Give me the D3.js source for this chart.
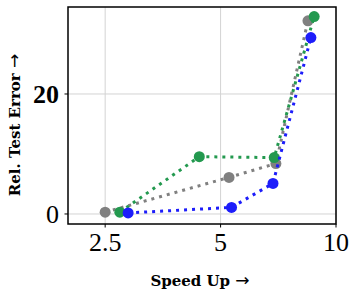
<!DOCTYPE html>
<html>
<head>
<meta charset="utf-8">
<script src="https://cdn.jsdelivr.net/npm/d3@7"></script>
<style>
  body { margin: 0; background: #fff; }
  svg { font-family: "Liberation Serif", "DejaVu Serif", serif; }
</style>
</head>
<body>
<svg id="chart" width="356" height="296"></svg>
<script>
// speed-up vs relative test error, three methods
var grayX  = [2.5, 5.26, 6.97, 8.45];
var grayY  = [0.3, 6.1, 8.4, 32.2];
var greenX = [2.73, 4.4, 6.9, 8.77];
var greenY = [0.3, 9.55, 9.4, 32.9];
var blueX  = [2.87, 5.34, 6.85, 8.6];
var blueY  = [0.17, 1.1, 5.1, 29.4];

var xTicks = [2.5, 5, 10];
var xTickLabels = ["2.5", "5", "10"];
var yTicks = [0, 20];

var svg = d3.select("#chart");
var pLeft = 68, pRight = 336, pTop = 7, pBottom = 224;

var x = d3.scaleLog().domain([2, 10]).range([pLeft, pRight]);
var y = d3.scaleLinear().domain([-1.67, 34.5]).range([pBottom, pTop]);

// grid
svg.selectAll("line.gx").data(xTicks).enter().append("line")
    .attr("x1", function(d){ return x(d); }).attr("x2", function(d){ return x(d); })
    .attr("y1", pTop).attr("y2", pBottom)
    .attr("stroke", "#d3d3d3").attr("stroke-width", 1);
svg.selectAll("line.gy").data(yTicks).enter().append("line")
    .attr("y1", function(d){ return y(d); }).attr("y2", function(d){ return y(d); })
    .attr("x1", pLeft).attr("x2", pRight)
    .attr("stroke", "#d3d3d3").attr("stroke-width", 1);

// ticks
svg.selectAll("line.tx").data(xTicks).enter().append("line")
    .attr("x1", function(d){ return x(d); }).attr("x2", function(d){ return x(d); })
    .attr("y1", pBottom).attr("y2", pBottom + 3.5)
    .attr("stroke", "#000").attr("stroke-width", 1);
svg.selectAll("line.ty").data(yTicks).enter().append("line")
    .attr("y1", function(d){ return y(d); }).attr("y2", function(d){ return y(d); })
    .attr("x1", pLeft - 3.5).attr("x2", pLeft)
    .attr("stroke", "#000").attr("stroke-width", 1);

svg.selectAll("text.xt").data(xTicks).enter().append("text")
    .attr("x", function(d){ return x(d); })
    .attr("y", 251)
    .attr("text-anchor", "middle")
    .attr("font-size", 26)
    .text(function(d, i){ return xTickLabels[i]; });

svg.selectAll("text.yt").data(yTicks).enter().append("text")
    .attr("x", 59)
    .attr("y", function(d){ return y(d) + 9; })
    .attr("text-anchor", "end")
    .attr("font-size", 26)
    .attr("font-weight", function(d){ return d === 20 ? "bold" : "normal"; })
    .text(function(d){ return d; });

// series
var line = d3.line().x(function(d){ return x(d[0]); }).y(function(d){ return y(d[1]); });
var series = [
  {xs: grayX,  ys: grayY,  color: "#808080"},
  {xs: greenX, ys: greenY, color: "#23994f"},
  {xs: blueX,  ys: blueY,  color: "#1d1dfa"}
];
series.forEach(function(s){
  var pts = s.xs.map(function(v, i){ return [v, s.ys[i]]; });
  svg.append("path").datum(pts)
      .attr("d", line)
      .attr("fill", "none")
      .attr("stroke", s.color)
      .attr("stroke-width", 3)
      .attr("stroke-dasharray", "3,5");
  svg.selectAll(null).data(pts).enter().append("circle")
      .attr("cx", function(d){ return x(d[0]); })
      .attr("cy", function(d){ return y(d[1]); })
      .attr("r", 5.5)
      .attr("fill", s.color);
});

// frame
svg.append("rect")
    .attr("x", pLeft).attr("y", pTop)
    .attr("width", pRight - pLeft).attr("height", pBottom - pTop)
    .attr("fill", "none").attr("stroke", "#000").attr("stroke-width", 1.5);

// axis labels
var xl = svg.append("text")
    .attr("x", 200).attr("y", 286)
    .attr("text-anchor", "middle")
    .style("font-family", "DejaVu Serif")
    .attr("font-size", 15).attr("font-weight", "bold");
xl.append("tspan").text("Speed Up ");
xl.append("tspan").style("font-family", "DejaVu Sans").attr("font-weight", "normal").attr("font-size", 17).text("\u2192");

var yl = svg.append("text")
    .attr("transform", "translate(20,125) rotate(-90)")
    .attr("text-anchor", "middle")
    .style("font-family", "DejaVu Serif")
    .attr("font-size", 15).attr("font-weight", "bold");
yl.append("tspan").text("Rel. Test Error ");
yl.append("tspan").style("font-family", "DejaVu Sans").attr("font-weight", "normal").attr("font-size", 17).text("\u2192");
</script>
</body>
</html>
